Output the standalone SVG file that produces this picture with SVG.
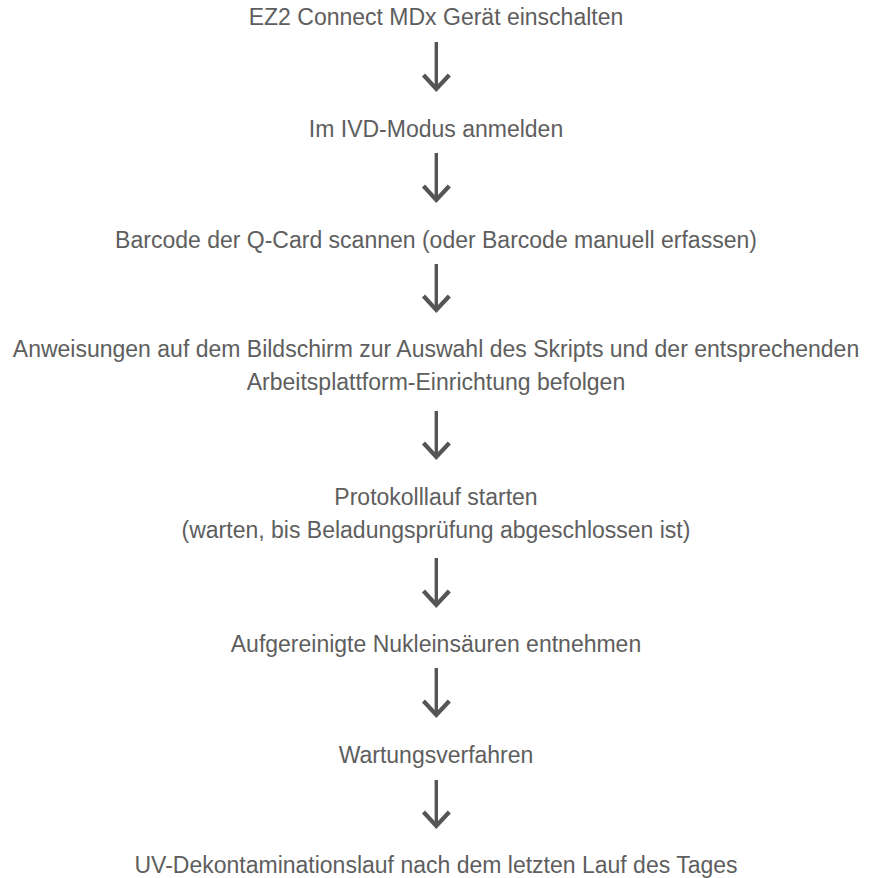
<svg xmlns="http://www.w3.org/2000/svg" width="874" height="878" viewBox="0 0 874 878">
<style>
.t{font-family:"Liberation Sans",Arial,sans-serif;font-size:23px;fill:#5e5e5e;text-anchor:middle}
.stem{stroke:#555;stroke-width:3.4;fill:none}
.head{stroke:#555;stroke-width:4.2;fill:none;stroke-linejoin:miter;stroke-miterlimit:6}
</style>
<rect width="874" height="878" fill="#fff"/>
<g id="n1"><text class="t" x="436" y="25">EZ2 Connect MDx Gerät einschalten</text></g>
<g id="n2"><text class="t" x="436" y="137">Im IVD-Modus anmelden</text></g>
<g id="n3"><text class="t" x="436" y="248">Barcode der Q-Card scannen (oder Barcode manuell erfassen)</text></g>
<g id="n4"><text class="t" x="436" y="357">Anweisungen auf dem Bildschirm zur Auswahl des Skripts und der entsprechenden</text><text class="t" x="436" y="390">Arbeitsplattform-Einrichtung befolgen</text></g>
<g id="n5"><text class="t" x="436" y="505">Protokolllauf starten</text><text class="t" x="436" y="538">(warten, bis Beladungsprüfung abgeschlossen ist)</text></g>
<g id="n6"><text class="t" x="436" y="652">Aufgereinigte Nukleinsäuren entnehmen</text></g>
<g id="n7"><text class="t" x="436" y="763">Wartungsverfahren</text></g>
<g id="n8"><text class="t" x="436" y="873">UV-Dekontaminationslauf nach dem letzten Lauf des Tages</text></g>
<g id="connectors">
<path class="stem" d="M436.3,42V88"/><path class="head" d="M423.5,75L436.3,89L449.3,75"/>
<path class="stem" d="M436.3,153V199"/><path class="head" d="M423.5,186L436.3,200L449.3,186"/>
<path class="stem" d="M436.3,264V309"/><path class="head" d="M423.5,296L436.3,310L449.3,296"/>
<path class="stem" d="M436.3,411V456"/><path class="head" d="M423.5,443L436.3,457L449.3,443"/>
<path class="stem" d="M436.3,558V604"/><path class="head" d="M423.5,591L436.3,605L449.3,591"/>
<path class="stem" d="M436.3,668V714"/><path class="head" d="M423.5,701L436.3,715L449.3,701"/>
<path class="stem" d="M436.3,780V825"/><path class="head" d="M423.5,812L436.3,826L449.3,812"/>
</g>
</svg>
